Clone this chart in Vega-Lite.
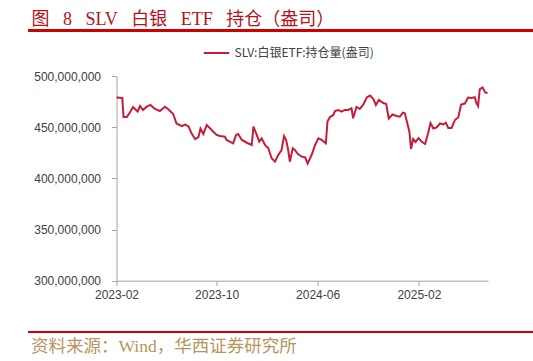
{
  "$schema": "https://vega.github.io/schema/vega-lite/v6.json",
  "width": 371.5,
  "height": 204.7,
  "autosize": {"type": "none"},
  "padding": {"left": 116.5, "top": 76, "right": 45, "bottom": 80.3},
  "background": "white",
  "title": {
    "text": "图\u2002 8\u2002 SLV\u2002 白银\u2002 ETF\u2002 持仓（盎司）",
    "anchor": "start",
    "frame": "group",
    "dx": -85,
    "dy": 20,
    "font": "Liberation Serif, Noto Sans CJK SC",
    "fontSize": 18,
    "fontWeight": "normal",
    "color": "#B5121B",
    "offset": 20
  },
  "config": {
    "view": {"stroke": null},
    "axis": {
      "labelFont": "Liberation Sans",
      "labelFontSize": 12,
      "labelColor": "#404040",
      "domainColor": "#A6A6A6",
      "tickColor": "#A6A6A6",
      "tickSize": 5,
      "grid": false
    }
  },
  "data": {
    "values": [
      {"date": "2023-02-01", "value": 479.0, "series": "SLV:白银ETF:持仓量(盎司)"},
      {"date": "2023-02-15", "value": 478.5, "series": "SLV:白银ETF:持仓量(盎司)"},
      {"date": "2023-02-18", "value": 459.9, "series": "SLV:白银ETF:持仓量(盎司)"},
      {"date": "2023-02-26", "value": 459.9, "series": "SLV:白银ETF:持仓量(盎司)"},
      {"date": "2023-03-06", "value": 464.8, "series": "SLV:白银ETF:持仓量(盎司)"},
      {"date": "2023-03-13", "value": 469.7, "series": "SLV:白银ETF:持仓量(盎司)"},
      {"date": "2023-03-24", "value": 465.3, "series": "SLV:白银ETF:持仓量(盎司)"},
      {"date": "2023-03-30", "value": 470.7, "series": "SLV:白银ETF:持仓量(盎司)"},
      {"date": "2023-04-06", "value": 466.8, "series": "SLV:白银ETF:持仓量(盎司)"},
      {"date": "2023-04-15", "value": 470.0, "series": "SLV:白银ETF:持仓量(盎司)"},
      {"date": "2023-04-24", "value": 471.7, "series": "SLV:白银ETF:持仓量(盎司)"},
      {"date": "2023-05-05", "value": 467.8, "series": "SLV:白银ETF:持仓量(盎司)"},
      {"date": "2023-05-17", "value": 465.8, "series": "SLV:白银ETF:持仓量(盎司)"},
      {"date": "2023-05-29", "value": 470.0, "series": "SLV:白银ETF:持仓量(盎司)"},
      {"date": "2023-06-06", "value": 467.5, "series": "SLV:白银ETF:持仓量(盎司)"},
      {"date": "2023-06-18", "value": 462.9, "series": "SLV:白银ETF:持仓量(盎司)"},
      {"date": "2023-06-26", "value": 453.6, "series": "SLV:白银ETF:持仓量(盎司)"},
      {"date": "2023-07-09", "value": 451.1, "series": "SLV:白银ETF:持仓量(盎司)"},
      {"date": "2023-07-17", "value": 452.6, "series": "SLV:白银ETF:持仓量(盎司)"},
      {"date": "2023-07-25", "value": 450.7, "series": "SLV:白银ETF:持仓量(盎司)"},
      {"date": "2023-08-01", "value": 444.3, "series": "SLV:白银ETF:持仓量(盎司)"},
      {"date": "2023-08-10", "value": 438.4, "series": "SLV:白银ETF:持仓量(盎司)"},
      {"date": "2023-08-18", "value": 440.4, "series": "SLV:白银ETF:持仓量(盎司)"},
      {"date": "2023-08-23", "value": 448.7, "series": "SLV:白银ETF:持仓量(盎司)"},
      {"date": "2023-08-30", "value": 443.3, "series": "SLV:白银ETF:持仓量(盎司)"},
      {"date": "2023-09-07", "value": 452.1, "series": "SLV:白银ETF:持仓量(盎司)"},
      {"date": "2023-09-15", "value": 448.9, "series": "SLV:白银ETF:持仓量(盎司)"},
      {"date": "2023-09-23", "value": 445.6, "series": "SLV:白银ETF:持仓量(盎司)"},
      {"date": "2023-10-01", "value": 442.4, "series": "SLV:白银ETF:持仓量(盎司)"},
      {"date": "2023-10-09", "value": 441.4, "series": "SLV:白银ETF:持仓量(盎司)"},
      {"date": "2023-10-21", "value": 440.7, "series": "SLV:白银ETF:持仓量(盎司)"},
      {"date": "2023-10-25", "value": 437.5, "series": "SLV:白银ETF:持仓量(盎司)"},
      {"date": "2023-11-02", "value": 435.8, "series": "SLV:白银ETF:持仓量(盎司)"},
      {"date": "2023-11-10", "value": 434.2, "series": "SLV:白银ETF:持仓量(盎司)"},
      {"date": "2023-11-17", "value": 442.4, "series": "SLV:白银ETF:持仓量(盎司)"},
      {"date": "2023-11-22", "value": 443.3, "series": "SLV:白银ETF:持仓量(盎司)"},
      {"date": "2023-12-01", "value": 437.5, "series": "SLV:白银ETF:持仓量(盎司)"},
      {"date": "2023-12-13", "value": 434.8, "series": "SLV:白银ETF:持仓量(盎司)"},
      {"date": "2023-12-25", "value": 432.6, "series": "SLV:白银ETF:持仓量(盎司)"},
      {"date": "2023-12-29", "value": 450.5, "series": "SLV:白银ETF:持仓量(盎司)"},
      {"date": "2024-01-06", "value": 442.4, "series": "SLV:白银ETF:持仓量(盎司)"},
      {"date": "2024-01-12", "value": 435.8, "series": "SLV:白银ETF:持仓量(盎司)"},
      {"date": "2024-01-18", "value": 439.1, "series": "SLV:白银ETF:持仓量(盎司)"},
      {"date": "2024-01-26", "value": 432.6, "series": "SLV:白银ETF:持仓量(盎司)"},
      {"date": "2024-02-03", "value": 429.4, "series": "SLV:白银ETF:持仓量(盎司)"},
      {"date": "2024-02-11", "value": 419.6, "series": "SLV:白银ETF:持仓量(盎司)"},
      {"date": "2024-02-19", "value": 416.3, "series": "SLV:白银ETF:持仓量(盎司)"},
      {"date": "2024-02-27", "value": 422.8, "series": "SLV:白银ETF:持仓量(盎司)"},
      {"date": "2024-03-06", "value": 427.7, "series": "SLV:白银ETF:持仓量(盎司)"},
      {"date": "2024-03-12", "value": 441.4, "series": "SLV:白银ETF:持仓量(盎司)"},
      {"date": "2024-03-17", "value": 437.5, "series": "SLV:白银ETF:持仓量(盎司)"},
      {"date": "2024-03-22", "value": 427.7, "series": "SLV:白银ETF:持仓量(盎司)"},
      {"date": "2024-03-26", "value": 416.3, "series": "SLV:白银ETF:持仓量(盎司)"},
      {"date": "2024-04-02", "value": 429.4, "series": "SLV:白银ETF:持仓量(盎司)"},
      {"date": "2024-04-07", "value": 427.7, "series": "SLV:白银ETF:持仓量(盎司)"},
      {"date": "2024-04-15", "value": 423.5, "series": "SLV:白银ETF:持仓量(盎司)"},
      {"date": "2024-04-24", "value": 421.2, "series": "SLV:白银ETF:持仓量(盎司)"},
      {"date": "2024-05-02", "value": 420.4, "series": "SLV:白银ETF:持仓量(盎司)"},
      {"date": "2024-05-08", "value": 414.5, "series": "SLV:白银ETF:持仓量(盎司)"},
      {"date": "2024-05-18", "value": 423.3, "series": "SLV:白银ETF:持仓量(盎司)"},
      {"date": "2024-05-26", "value": 432.6, "series": "SLV:白银ETF:持仓量(盎司)"},
      {"date": "2024-06-03", "value": 439.1, "series": "SLV:白银ETF:持仓量(盎司)"},
      {"date": "2024-06-11", "value": 437.5, "series": "SLV:白银ETF:持仓量(盎司)"},
      {"date": "2024-06-21", "value": 434.2, "series": "SLV:白银ETF:持仓量(盎司)"},
      {"date": "2024-06-25", "value": 455.4, "series": "SLV:白银ETF:持仓量(盎司)"},
      {"date": "2024-07-01", "value": 459.9, "series": "SLV:白银ETF:持仓量(盎司)"},
      {"date": "2024-07-09", "value": 461.9, "series": "SLV:白银ETF:持仓量(盎司)"},
      {"date": "2024-07-13", "value": 465.8, "series": "SLV:白银ETF:持仓量(盎司)"},
      {"date": "2024-07-21", "value": 466.8, "series": "SLV:白银ETF:持仓量(盎司)"},
      {"date": "2024-07-29", "value": 465.1, "series": "SLV:白银ETF:持仓量(盎司)"},
      {"date": "2024-08-06", "value": 466.8, "series": "SLV:白银ETF:持仓量(盎司)"},
      {"date": "2024-08-14", "value": 466.8, "series": "SLV:白银ETF:持仓量(盎司)"},
      {"date": "2024-08-22", "value": 468.4, "series": "SLV:白银ETF:持仓量(盎司)"},
      {"date": "2024-08-26", "value": 458.7, "series": "SLV:白银ETF:持仓量(盎司)"},
      {"date": "2024-09-03", "value": 469.7, "series": "SLV:白银ETF:持仓量(盎司)"},
      {"date": "2024-09-11", "value": 467.8, "series": "SLV:白银ETF:持仓量(盎司)"},
      {"date": "2024-09-19", "value": 471.7, "series": "SLV:白银ETF:持仓量(盎司)"},
      {"date": "2024-09-28", "value": 479.0, "series": "SLV:白银ETF:持仓量(盎司)"},
      {"date": "2024-10-06", "value": 480.9, "series": "SLV:白银ETF:持仓量(盎司)"},
      {"date": "2024-10-14", "value": 477.5, "series": "SLV:白银ETF:持仓量(盎司)"},
      {"date": "2024-10-20", "value": 471.7, "series": "SLV:白银ETF:持仓量(盎司)"},
      {"date": "2024-10-27", "value": 476.6, "series": "SLV:白银ETF:持仓量(盎司)"},
      {"date": "2024-11-07", "value": 473.6, "series": "SLV:白银ETF:持仓量(盎司)"},
      {"date": "2024-11-14", "value": 472.6, "series": "SLV:白银ETF:持仓量(盎司)"},
      {"date": "2024-11-20", "value": 458.5, "series": "SLV:白银ETF:持仓量(盎司)"},
      {"date": "2024-11-29", "value": 462.4, "series": "SLV:白银ETF:持仓量(盎司)"},
      {"date": "2024-12-09", "value": 460.9, "series": "SLV:白银ETF:持仓量(盎司)"},
      {"date": "2024-12-17", "value": 460.2, "series": "SLV:白银ETF:持仓量(盎司)"},
      {"date": "2024-12-24", "value": 464.1, "series": "SLV:白银ETF:持仓量(盎司)"},
      {"date": "2024-12-29", "value": 463.6, "series": "SLV:白银ETF:持仓量(盎司)"},
      {"date": "2025-01-03", "value": 455.4, "series": "SLV:白银ETF:持仓量(盎司)"},
      {"date": "2025-01-09", "value": 445.6, "series": "SLV:白银ETF:持仓量(盎司)"},
      {"date": "2025-01-13", "value": 428.7, "series": "SLV:白银ETF:持仓量(盎司)"},
      {"date": "2025-01-18", "value": 438.4, "series": "SLV:白银ETF:持仓量(盎司)"},
      {"date": "2025-01-24", "value": 435.5, "series": "SLV:白银ETF:持仓量(盎司)"},
      {"date": "2025-01-31", "value": 439.4, "series": "SLV:白银ETF:持仓量(盎司)"},
      {"date": "2025-02-08", "value": 435.8, "series": "SLV:白银ETF:持仓量(盎司)"},
      {"date": "2025-02-16", "value": 433.6, "series": "SLV:白银ETF:持仓量(盎司)"},
      {"date": "2025-02-23", "value": 443.8, "series": "SLV:白银ETF:持仓量(盎司)"},
      {"date": "2025-03-01", "value": 454.1, "series": "SLV:白银ETF:持仓量(盎司)"},
      {"date": "2025-03-08", "value": 448.7, "series": "SLV:白银ETF:持仓量(盎司)"},
      {"date": "2025-03-16", "value": 449.7, "series": "SLV:白银ETF:持仓量(盎司)"},
      {"date": "2025-03-24", "value": 453.6, "series": "SLV:白银ETF:持仓量(盎司)"},
      {"date": "2025-04-01", "value": 452.6, "series": "SLV:白银ETF:持仓量(盎司)"},
      {"date": "2025-04-07", "value": 454.4, "series": "SLV:白银ETF:持仓量(盎司)"},
      {"date": "2025-04-13", "value": 449.2, "series": "SLV:白银ETF:持仓量(盎司)"},
      {"date": "2025-04-21", "value": 449.2, "series": "SLV:白银ETF:持仓量(盎司)"},
      {"date": "2025-04-29", "value": 457.0, "series": "SLV:白银ETF:持仓量(盎司)"},
      {"date": "2025-05-07", "value": 459.5, "series": "SLV:白银ETF:持仓量(盎司)"},
      {"date": "2025-05-14", "value": 472.2, "series": "SLV:白银ETF:持仓量(盎司)"},
      {"date": "2025-05-23", "value": 473.1, "series": "SLV:白银ETF:持仓量(盎司)"},
      {"date": "2025-05-31", "value": 479.0, "series": "SLV:白银ETF:持仓量(盎司)"},
      {"date": "2025-06-08", "value": 478.5, "series": "SLV:白银ETF:持仓量(盎司)"},
      {"date": "2025-06-16", "value": 479.2, "series": "SLV:白银ETF:持仓量(盎司)"},
      {"date": "2025-06-20", "value": 473.6, "series": "SLV:白银ETF:持仓量(盎司)"},
      {"date": "2025-06-24", "value": 470.7, "series": "SLV:白银ETF:持仓量(盎司)"},
      {"date": "2025-06-28", "value": 487.0, "series": "SLV:白银ETF:持仓量(盎司)"},
      {"date": "2025-07-05", "value": 488.8, "series": "SLV:白银ETF:持仓量(盎司)"},
      {"date": "2025-07-11", "value": 483.9, "series": "SLV:白银ETF:持仓量(盎司)"},
      {"date": "2025-07-17", "value": 483.4, "series": "SLV:白银ETF:持仓量(盎司)"}
    ]
  },
  "layer": [
    {
      "mark": {"type": "line", "strokeWidth": 2, "clip": false},
      "encoding": {
        "x": {
          "field": "date",
          "type": "temporal",
          "scale": {"domain": [{"year": 2023, "month": 2, "date": 1}, {"year": 2025, "month": 7, "date": 18}]},
          "axis": {
            "values": [{"year": 2023, "month": 2, "date": 1}, {"year": 2023, "month": 10, "date": 1}, {"year": 2024, "month": 6, "date": 1}, {"year": 2025, "month": 2, "date": 1}],
            "format": "%Y-%m",
            "labelPadding": 4,
            "labelFlush": false,
            "title": "资料来源：Wind，华西证券研究所",
            "titleFont": "Liberation Serif, Noto Sans CJK SC",
            "titleFontSize": 17.5,
            "titleFontWeight": "normal",
            "titleColor": "#B8945E",
            "titleAnchor": "start",
            "titleAlign": "left",
            "titleBaseline": "middle",
            "titleX": -86,
            "titleY": 66
          }
        },
        "y": {
          "field": "value",
          "type": "quantitative",
          "scale": {"domain": [300, 500], "nice": false, "zero": false},
          "axis": {
            "values": [300, 350, 400, 450, 500],
            "labelExpr": "format(datum.value * 1000000, ',d')",
            "labelPadding": 11,
            "title": null
          }
        },
        "color": {
          "field": "series",
          "type": "nominal",
          "scale": {"range": ["#C41E3A"]},
          "legend": {
            "title": null,
            "orient": "none",
            "legendX": 86,
            "legendY": -37,
            "symbolType": "stroke",
            "symbolSize": 650,
            "symbolStrokeWidth": 2,
            "labelFont": "Noto Sans CJK SC",
            "labelFontSize": 12,
            "labelColor": "#404040",
            "padding": 0
          }
        }
      }
    },
    {
      "mark": {"type": "rule", "color": "#D00000", "strokeWidth": 2, "clip": false},
      "encoding": {
        "x": {"datum": {"year": 2022, "month": 7, "date": 4}, "type": "temporal"},
        "x2": {"datum": {"year": 2025, "month": 11, "date": 4}},
        "y": {"datum": 544.5, "type": "quantitative"}
      }
    },
    {
      "mark": {"type": "rule", "color": "#D00000", "strokeWidth": 2, "clip": false},
      "encoding": {
        "x": {"datum": {"year": 2022, "month": 7, "date": 4}, "type": "temporal"},
        "x2": {"datum": {"year": 2025, "month": 11, "date": 4}},
        "y": {"datum": 250, "type": "quantitative"}
      }
    }
  ]
}
